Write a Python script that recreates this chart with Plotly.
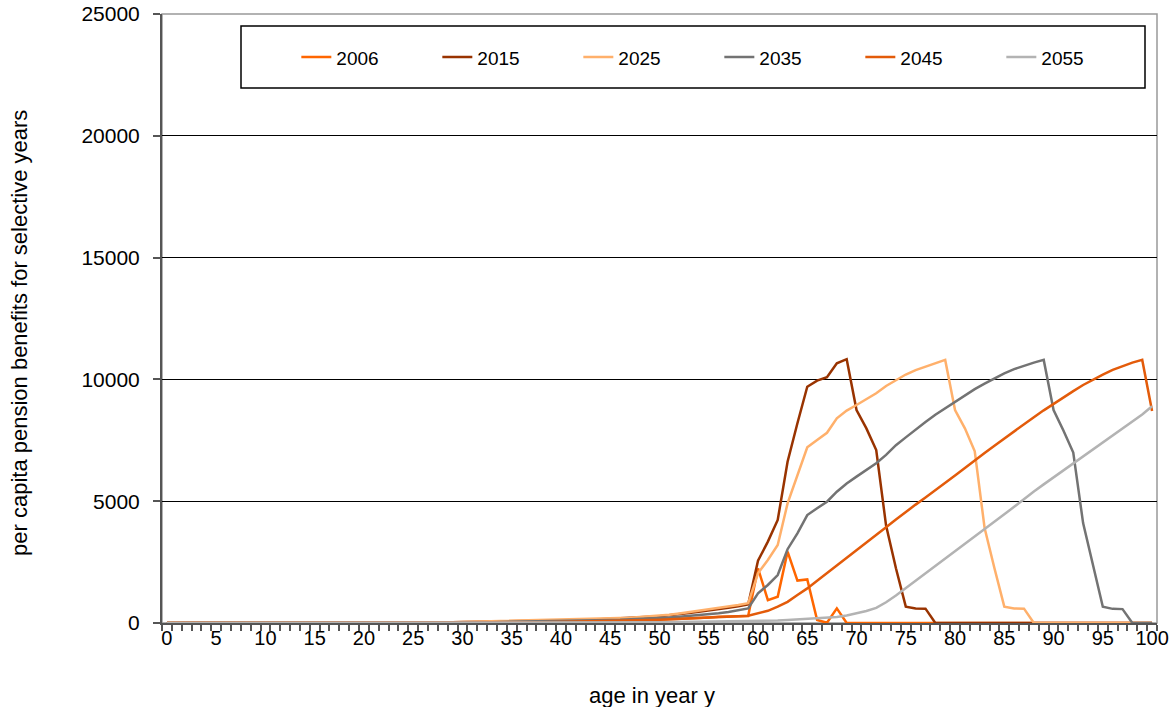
import plotly.graph_objects as go

ages = list(range(0, 101))
years = ["2006", "2015", "2025", "2035", "2045", "2055"]

zeros_0_27 = [0] * 28

# values for ages 28..59 (low part) and 60..100 (high part)
low2006 = [5, 8, 10, 12, 15, 18, 20, 22, 25, 30,
           35, 40, 45, 50, 55, 60, 70, 80, 90, 100,
           110, 120, 135, 150, 165, 185, 205, 230, 255, 275, 285, 290]
high2006 = [2240, 940, 1080, 2930, 1740, 1790, 120, 10, 600] + [0] * 32

low2015 = [20, 30, 40, 45, 50, 55, 60, 70, 75, 80,
           90, 95, 105, 115, 125, 135, 150, 165, 185, 205,
           230, 255, 280, 315, 360, 410, 460, 510, 570, 630, 690, 760]
high2015 = [2560, 3340, 4230, 6620, 8200, 9700, 9950, 10090, 10660, 10830,
            8740, 7990, 7100, 4000, 2250, 670, 600, 590] + [0] * 23

low2025 = [20, 35, 45, 50, 55, 60, 70, 75, 85, 90,
           100, 110, 120, 130, 145, 160, 175, 190, 205, 215,
           245, 270, 300, 340, 390, 445, 500, 560, 620, 680, 740, 810]
high2025 = [2040, 2590, 3200, 4910, 6080, 7210, 7510, 7810, 8400, 8720,
            8950, 9180, 9430, 9730, 9980, 10200, 10380, 10530, 10660, 10800,
            8740, 7990, 7050, 3900, 2250, 670, 600, 590] + [0] * 13

low2035 = [10, 15, 20, 25, 30, 35, 40, 45, 50, 55,
           60, 70, 75, 80, 90, 100, 110, 120, 130, 145,
           160, 175, 200, 230, 260, 290, 320, 360, 400, 450, 520, 600]
high2035 = [1220, 1560, 1970, 3030, 3680, 4430, 4710, 4980, 5390, 5730,
            6010, 6280, 6560, 6900, 7300, 7620, 7950, 8250, 8550, 8810,
            9080, 9350, 9600, 9830, 10050, 10250, 10420, 10560, 10690, 10800,
            8740, 7900, 7000, 4100, 2400, 670, 580, 570, 0, 0, 0]

low2045 = [3, 5, 8, 10, 12, 15, 18, 20, 25, 30,
           35, 40, 45, 50, 55, 60, 70, 80, 90, 100,
           110, 120, 135, 150, 165, 185, 205, 225, 245, 265, 280, 300]
high2045 = [400, 500, 670, 870, 1150, 1420, 1730, 2040, 2350, 2660,
            2970, 3280, 3610, 3930, 4250, 4570, 4860, 5150, 5440, 5740,
            6050, 6360, 6680, 6980, 7280, 7580, 7870, 8170, 8450, 8730,
            9000, 9270, 9520, 9770, 9990, 10200, 10390, 10550, 10690, 10800, 8700]

low2055 = [2, 3, 4, 5, 5, 6, 7, 8, 9, 10,
           11, 12, 13, 14, 15, 17, 19, 21, 23, 25,
           27, 30, 33, 36, 39, 42, 45, 49, 53, 57, 60, 65]
high2055 = [70, 85, 100, 120, 140, 160, 180, 210, 250, 310,
            390, 490, 620, 850, 1130, 1430, 1730, 2030, 2330, 2630,
            2930, 3230, 3530, 3840, 4150, 4460, 4770, 5100, 5400, 5690,
            5980, 6270, 6550, 6840, 7130, 7410, 7700, 7990, 8270, 8560, 8900]

series = [zeros_0_27 + lo + hi for lo, hi in [
    (low2006, high2006), (low2015, high2015), (low2025, high2025),
    (low2035, high2035), (low2045, high2045), (low2055, high2055)]]
for s in series:
    assert len(s) == 101, len(s)

colors = ["#FF6600", "#993300", "#FFB06B", "#737373", "#E35B0A", "#B3B3B3"]

x_labels = list(range(0, 101, 5))
y_ticks = [0, 5000, 10000, 15000, 20000, 25000]

FONT = "Liberation Sans, Arial, sans-serif"

fig = go.Figure()
for name, vals, col in zip(years, series, colors):
    fig.add_trace(go.Scatter(x=ages, y=vals, mode="lines", name=name,
                             line=dict(color=col, width=2.5)))

fig.update_layout(
    width=1173, height=707,
    margin=dict(l=162, r=16, t=14, b=84),
    paper_bgcolor="white", plot_bgcolor="white",
    font=dict(family=FONT, color="black", size=17),
    showlegend=True,
    legend=dict(orientation="h", x=0.135, y=0.929, xanchor="left", yanchor="middle",
                bgcolor="rgba(0,0,0,0)", borderwidth=0,
                entrywidth=96, entrywidthmode="pixels",
                font=dict(family=FONT, size=19, color="black")),
)

fig.update_xaxes(
    range=[-0.5, 100.5], automargin=False,
    tickmode="array", tickvals=x_labels, ticktext=[str(v) for v in x_labels],
    ticks="", tickfont=dict(family=FONT, size=20), ticklabelstandoff=-4,
    ticklabeloverflow="allow",
    showgrid=False, zeroline=False,
    showline=True, linecolor="#555555", linewidth=2,
    minor=dict(tickmode="linear", tick0=-0.5, dtick=1, ticks="outside",
               ticklen=6, tickwidth=1.5, tickcolor="#555555", showgrid=False),
)

fig.update_yaxes(
    range=[0, 25000], automargin=False, tickmode="array", tickvals=y_ticks,
    ticktext=[str(v) for v in y_ticks],
    ticks="outside", ticklen=7, tickcolor="#555555", tickwidth=1.5,
    tickfont=dict(family=FONT, size=21), ticklabelstandoff=9,
    ticklabeloverflow="allow",
    showgrid=True, gridcolor="black", gridwidth=1.2,
    zeroline=False, showline=True, linecolor="#555555", linewidth=2,
)

# plot area border (top/right) and legend box
fig.add_shape(type="rect", xref="paper", yref="paper", x0=0, x1=1, y0=0, y1=1,
              line=dict(color="#999999", width=1.5), layer="below")
fig.add_shape(type="rect", xref="paper", yref="paper",
              x0=(241 - 162) / 995, x1=(1145 - 162) / 995,
              y0=(623 - 88) / 609, y1=(623 - 26) / 609,
              line=dict(color="black", width=1.5), fillcolor="white", layer="above")

fig.add_annotation(text="age in year y", xref="paper", yref="paper",
                   x=(652 - 162) / 995, y=(623 - 695) / 609, showarrow=False,
                   font=dict(family=FONT, size=22), xanchor="center", yanchor="middle")
fig.add_annotation(text="per capita pension benefits for selective years", xref="paper", yref="paper",
                   x=(19 - 162) / 995, y=(623 - 333) / 609, showarrow=False, textangle=-90,
                   font=dict(family=FONT, size=22), xanchor="center", yanchor="middle")

fig.write_html("out.html", config={"displayModeBar": False},
               post_script="document.body.style.margin='0';document.body.style.overflow='hidden';")
